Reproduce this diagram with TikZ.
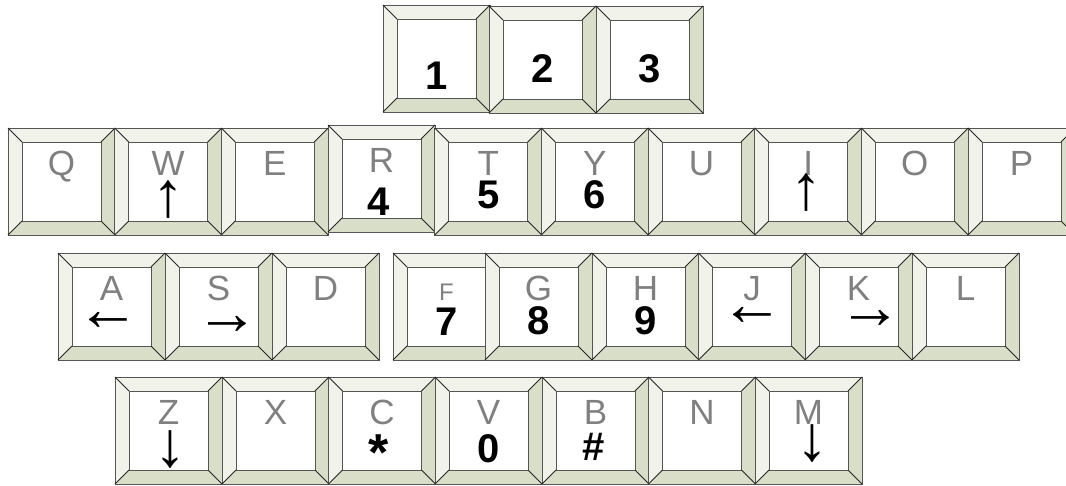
\documentclass[tikz,border=0pt]{standalone}
\usepackage{fontspec}
\setmainfont{Liberation Sans}
\usetikzlibrary{positioning}

\definecolor{bevlight}{HTML}{F1F2EA}
\definecolor{bevdark}{HTML}{D8DEC7}
\definecolor{keyline}{HTML}{555555}
\definecolor{lettergray}{HTML}{808080}

\tikzset{
  keybox/.style={rectangle, minimum width=107pt, minimum height=107pt,
    inner sep=0pt, outer sep=0pt, anchor=north west},
  rim/.style={draw=keyline, line width=1pt},
  diag/.style={draw=black!85, line width=0.9pt},
  letter/.style={text=lettergray, font=\fontsize{35}{40}\selectfont,
    inner sep=0pt, anchor=base},
  smallletter/.style={letter, font=\fontsize{24}{28}\selectfont},
  digit/.style={font=\bfseries\fontsize{40}{44}\selectfont, inner sep=0pt, anchor=base},
  arrowsym/.style={font=\bfseries\fontsize{44}{48}\selectfont, inner sep=0pt, scale=1.45},
}

% one bevelled key cap, top-left corner at (#2,#3)
\newcommand{\keycap}[3]{%
  \node[keybox] (#1) at (#2,#3) {};
  \coordinate (#1-a) at ([shift={(14,14)}]#1.north west);
  \coordinate (#1-b) at ([shift={(-14,14)}]#1.north east);
  \coordinate (#1-c) at ([shift={(-14,-14)}]#1.south east);
  \coordinate (#1-d) at ([shift={(14,-14)}]#1.south west);
  \fill[bevlight] (#1.north west) -- (#1.north east) -- (#1-b) -- (#1-a) -- cycle;
  \fill[bevlight] (#1.north west) -- (#1-a) -- (#1-d) -- (#1.south west) -- cycle;
  \fill[bevdark] (#1.north east) -- (#1.south east) -- (#1-c) -- (#1-b) -- cycle;
  \fill[bevdark] (#1.south west) -- (#1-d) -- (#1-c) -- (#1.south east) -- cycle;
  \filldraw[fill=white, rim] (#1-a) rectangle (#1-c);
  \draw[rim] (#1.north west) rectangle (#1.south east);
  \draw[diag] (#1.north west) -- (#1-a) (#1.north east) -- (#1-b)
    (#1.south east) -- (#1-c) (#1.south west) -- (#1-d);
}

\begin{document}
\begin{tikzpicture}[x=1pt, y=-1pt]
\useasboundingbox (0,0) rectangle (1066,485);
\clip (0,0) rectangle (1066,485);

% number row
\keycap{k1}{383}{5}
\keycap{k2}{489}{6}
\keycap{k3}{596}{6}
\node[digit] (d1) at ([shift={(0,84)}]k1.north) {1};
\node[digit] (d2) at ([shift={(0,76)}]k2.north) {2};
\node[digit] (d3) at ([shift={(0,76)}]k3.north) {3};

% letter keys
\foreach \k/\x/\y in {Q/8/128, W/114.7/128, E/221.3/128, R/328/125, T/434.7/128,
    Y/541.3/128, U/648/128, I/754.7/128, O/861.3/128, P/968/128,
    A/58/253, S/165/253, D/272/253, F/393/253, G/485/253, H/592/253,
    J/698.5/253, K/805/253, L/912/253,
    Z/115/377, X/222/377, C/328.5/377, V/435/377, B/542/377, N/648.5/377, M/755/377}{
  \keycap{key\k}{\x}{\y}
}
\foreach \k in {Q,W,E,R,T,Y,U,I,O,P,A,S,D,G,H,J,K,L,Z,X,C,V,B,N,M}{
  \node[letter] (txt\k) at ([shift={(0,47)}]key\k.north) {\k};
}
\node[smallletter] (txtF) at ([shift={(0,47)}]keyF.north) {F};

% digits and symbols
\node[digit] (d4) at ([shift={(-3,90)}]keyR.north) {4};
\node[digit] (d5) at ([shift={(0,80)}]keyT.north) {5};
\node[digit] (d6) at ([shift={(0,80)}]keyY.north) {6};
\node[digit] (d7) at ([shift={(0,82)}]keyF.north) {7};
\node[digit] (d8) at ([shift={(0,81)}]keyG.north) {8};
\node[digit] (d9) at ([shift={(0,81)}]keyH.north) {9};
\node[digit] (d0) at ([shift={(0,85)}]keyV.north) {0};
\node[digit, font=\bfseries\fontsize{52}{56}\selectfont, anchor=center] (star)
  at ([shift={(-3,76)}]keyC.north) {*};
\node[digit] (hash) at ([shift={(-2,83)}]keyB.north) {\#};

% arrows
\node[arrowsym] (upW) at ([shift={(0,72)}]keyW.north) {↑};
\node[arrowsym] (upI) at ([shift={(-2,65)}]keyI.north) {↑};
\node[arrowsym] (leftA) at ([shift={(-3.5,68)}]keyA.north) {←};
\node[arrowsym] (rightS) at ([shift={(8.5,72)}]keyS.north) {→};
\node[arrowsym] (leftJ) at ([shift={(0.5,63)}]keyJ.north) {←};
\node[arrowsym] (rightK) at ([shift={(12,66)}]keyK.north) {→};
\node[arrowsym] (downZ) at ([shift={(1.5,72.5)}]keyZ.north) {↓};
\node[arrowsym] (downM) at ([shift={(3.5,67)}]keyM.north) {↓};
\end{tikzpicture}
\end{document}
